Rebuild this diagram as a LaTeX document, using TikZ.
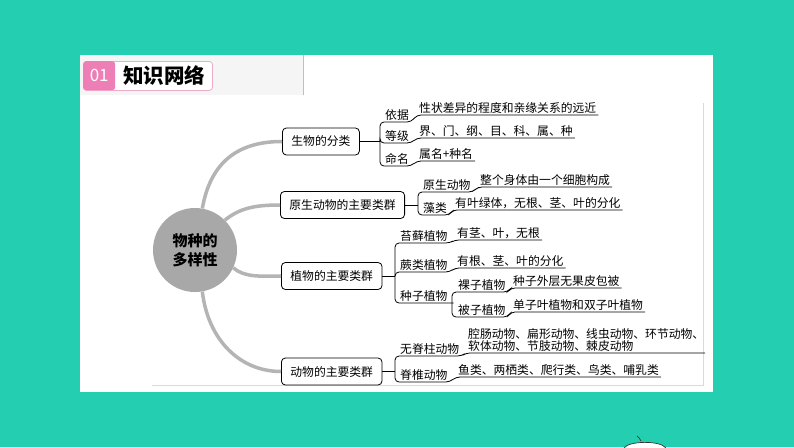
\documentclass[tikz,border=0pt]{standalone}
\usepackage{fontspec}
\usepackage{xcolor}
\usepackage{tikz}
\newfontfamily\cjk{Noto Sans CJK SC}
\definecolor{bgteal}{RGB}{36,207,177}
\definecolor{badgepink}{RGB}{238,126,182}
\definecolor{linepink}{RGB}{240,170,202}
\definecolor{stemgray}{RGB}{180,180,180}
\definecolor{hubgray}{RGB}{168,168,168}
\definecolor{framegray}{RGB}{210,220,230}

\begin{document}
\begin{tikzpicture}[x=1pt, y=-1pt,
    font=\cjk\fontsize{11.8}{12}\selectfont,
    group/.style={draw, rounded corners=4pt, line width=0.8pt, minimum height=27pt, inner xsep=9pt, anchor=west},
    tag/.style={inner xsep=2pt, inner ysep=1.5pt, anchor=south west},
    branch/.style={line width=0.8pt, rounded corners=4pt},
    stem/.style={stemgray, line width=3.5pt}]
    \useasboundingbox (0,0) rectangle (794,447);

    % page and card
    \fill[bgteal] (0,0) rectangle (794,447);
    \fill[white] (80,55) rectangle (713,392);
    \fill[black!4] (80,55) rectangle (303,95);
    \draw[black!25, line width=0.6pt] (303,55) -- (303,95);
    \draw[framegray, line width=0.6pt] (703,103) -- (703,385) -- (152,385);

    % title badge
    \node[draw=linepink, line width=0.8pt, rounded corners=3pt, fill=white, minimum width=129pt, minimum height=29pt, anchor=north west] (title) at (83,61) {};
    \node[fill=badgepink, rounded corners=3pt, minimum width=32pt, minimum height=29pt, anchor=north west, text=white, font=\cjk\fontsize{17}{17}\selectfont] (num) at (83,61) {01};
    \node[anchor=west, inner sep=0pt, font=\cjk\bfseries\fontsize{20.5}{20.5}\selectfont] (head) at (123,76) {知识网络};

    % hub and groups
    \node[circle, fill=hubgray, minimum size=84pt, inner sep=0pt, align=center, font=\cjk\bfseries\fontsize{15}{19}\selectfont] (hub) at (195,250) {物种的\\多样性};
    \node[group] (s1) at (282,141.5) {生物的分类};
    \node[group] (s2) at (280,205) {原生动物的主要类群};
    \node[group] (s3) at (281,276) {植物的主要类群};
    \node[group] (s4) at (281,371.5) {动物的主要类群};

    \draw[stem] (hub.80) .. controls (210,165) and (235,141.5) .. (s1.west);
    \draw[stem] (hub.45) .. controls (240,208) and (255,205) .. (s2.west);
    \draw[stem] (hub.-25) .. controls (245,278) and (262,276) .. (s3.west);
    \draw[stem] (hub.-80) .. controls (208,340) and (240,371.5) .. (s4.west);

    % bracket points
    \coordinate (k1) at (380,141.5);
    \coordinate (k2) at (418,205);
    \coordinate (k3) at (395,276);
    \coordinate (k4) at (395,371.5);
    \coordinate (k5) at (452,303);
    \coordinate (wjend) at (705,353);

    % classification
    \node[tag] (yj) at (383,122) {依据};
    \node[tag] (yjv) at (417,115) {性状差异的程度和亲缘关系的远近};
    \node[tag] (dj) at (383,143) {等级};
    \node[tag] (djv) at (417,138) {界、门、纲、目、科、属、种};
    \node[tag] (mm) at (383,166) {命名};
    \node[tag] (mmv) at (417,161) {属名+种名};

    % protists
    \node[tag] (ys) at (421,192) {原生动物};
    \node[tag] (ysv) at (478,187) {整个身体由一个细胞构成};
    \node[tag] (zl) at (421,215) {藻类};
    \node[tag] (zlv) at (453,210) {有叶绿体，无根、茎、叶的分化};

    % plants
    \node[tag] (tx) at (398,243) {苔藓植物};
    \node[tag] (txv) at (455,240) {有茎、叶，无根};
    \node[tag] (jl) at (398,272) {蕨类植物};
    \node[tag] (jlv) at (455,268) {有根、茎、叶的分化};
    \node[tag] (zz) at (398,303) {种子植物};
    \node[tag] (lz) at (456,292) {裸子植物};
    \node[tag] (lzv) at (511,288) {种子外层无果皮包被};
    \node[tag] (bz) at (456,317) {被子植物};
    \node[tag] (bzv) at (511,312) {单子叶植物和双子叶植物};

    % animals
    \node[tag] (wj) at (398,356) {无脊柱动物};
    \node[tag, align=left] (wjv) at (466,353) {腔肠动物、扁形动物、线虫动物、环节动物、\\软体动物、节肢动物、棘皮动物};
    \node[tag] (jz) at (398,382) {脊椎动物};
    \node[tag] (jzv) at (456,377) {鱼类、两栖类、爬行类、鸟类、哺乳类};

    % brackets and underlines
    \draw[branch] (s1.east) -- (k1);
    \foreach \a/\b in {yj/yjv, dj/djv, mm/mmv}
        \draw[branch] (k1) |- (\a.south east) -- (\b.south west) -- (\b.south east);

    \draw[branch] (s2.east) -- (k2);
    \foreach \a/\b in {ys/ysv, zl/zlv}
        \draw[branch] (k2) |- (\a.south east) -- (\b.south west) -- (\b.south east);

    \draw[branch] (s3.east) -- (k3);
    \foreach \a/\b in {tx/txv, jl/jlv}
        \draw[branch] (k3) |- (\a.south east) -- (\b.south west) -- (\b.south east);
    \draw[branch] (k3) |- (zz.south east) -- (k5);
    \foreach \a/\b in {lz/lzv, bz/bzv}
        \draw[branch] (k5) |- (\a.south east) -- (\b.south west) -- (\b.south east);

    \draw[branch] (s4.east) -- (k4);
    \draw[branch] (k4) |- (wj.south east) -- (wjv.south west) -- (wjend);
    \draw[branch] (k4) |- (jz.south east) -- (jzv.south west) -- (jzv.south east);

    % mascot peeking in
    \draw[black!80, line width=0.7pt, fill=white] (624,448) .. controls (628,441) and (660,440) .. (666,448);
    \draw[black!80, line width=0.7pt] (641,441) .. controls (640,438) and (638,437) .. (637,436);
\end{tikzpicture}
\end{document}
